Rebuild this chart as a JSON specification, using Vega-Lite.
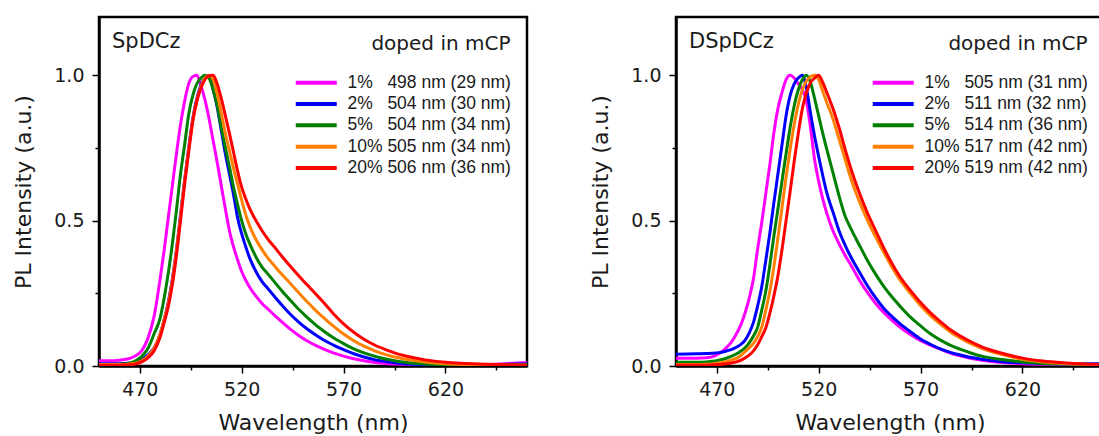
{
  "$schema": "https://vega.github.io/schema/vega-lite/v6.json",
  "background": "white",
  "padding": {"left": 11, "top": 15, "right": 0, "bottom": 0},
  "spacing": 59,
  "config": {
    "view": {"stroke": "black", "strokeWidth": 2.5},
    "axis": {
      "grid": false,
      "domainColor": "black",
      "domainWidth": 2.5,
      "tickColor": "black",
      "tickWidth": 1.5,
      "labelFont": "DejaVu Sans",
      "labelFontSize": 19,
      "labelColor": "#1a1a1a",
      "labelOverlap": false,
      "labelFlush": false,
      "labelBound": false,
      "titleFont": "DejaVu Sans",
      "titleFontSize": 22,
      "titleFontWeight": "normal",
      "titleColor": "#1a1a1a"
    },
    "legend": {
      "orient": "none",
      "padding": 0,
      "titleFont": "DejaVu Sans",
      "titleFontSize": 20,
      "titleFontWeight": "normal",
      "titleColor": "#1a1a1a",
      "titleAnchor": "end",
      "titlePadding": 20,
      "titleLimit": 0,
      "labelFont": "Liberation Sans",
      "labelFontSize": 17.5,
      "labelColor": "#1a1a1a",
      "labelLimit": 0,
      "labelOffset": 22.5,
      "symbolType": "M-4,0H4",
      "symbolSize": 105,
      "symbolStrokeWidth": 4,
      "rowPadding": 2.3
    },
    "title": {
      "font": "DejaVu Sans",
      "fontSize": 21,
      "fontWeight": "normal",
      "color": "#1a1a1a",
      "anchor": "start",
      "frame": "group",
      "orient": "top",
      "offset": 0,
      "baseline": "alphabetic"
    }
  },
  "datasets": {
    "sp": [
      {"w":450,"s01":0.018,"s02":0.008,"s05":0.005,"s10":0.005,"s20":0.003},
      {"w":455,"s01":0.018,"s02":0.008,"s05":0.005,"s10":0.005,"s20":0.003},
      {"w":460,"s01":0.020,"s02":0.008,"s05":0.006,"s10":0.005,"s20":0.003},
      {"w":465,"s01":0.026,"s02":0.010,"s05":0.010,"s10":0.007,"s20":0.004},
      {"w":468,"s01":0.035,"s02":0.014,"s05":0.018,"s10":0.010,"s20":0.007},
      {"w":471,"s01":0.053,"s02":0.022,"s05":0.033,"s10":0.018,"s20":0.014},
      {"w":474,"s01":0.095,"s02":0.038,"s05":0.060,"s10":0.033,"s20":0.028},
      {"w":477,"s01":0.170,"s02":0.062,"s05":0.110,"s10":0.060,"s20":0.052},
      {"w":480,"s01":0.300,"s02":0.110,"s05":0.165,"s10":0.110,"s20":0.100},
      {"w":482,"s01":0.400,"s02":0.160,"s05":0.235,"s10":0.160,"s20":0.150},
      {"w":484,"s01":0.510,"s02":0.220,"s05":0.320,"s10":0.215,"s20":0.205},
      {"w":486,"s01":0.620,"s02":0.300,"s05":0.420,"s10":0.295,"s20":0.280},
      {"w":488,"s01":0.730,"s02":0.400,"s05":0.535,"s10":0.395,"s20":0.380},
      {"w":490,"s01":0.830,"s02":0.520,"s05":0.660,"s10":0.515,"s20":0.500},
      {"w":492,"s01":0.910,"s02":0.640,"s05":0.760,"s10":0.635,"s20":0.625},
      {"w":494,"s01":0.970,"s02":0.750,"s05":0.865,"s10":0.745,"s20":0.735},
      {"w":496,"s01":0.995,"s02":0.850,"s05":0.930,"s10":0.845,"s20":0.840},
      {"w":498,"s01":1.000,"s02":0.920,"s05":0.970,"s10":0.915,"s20":0.910},
      {"w":500,"s01":0.965,"s02":0.965,"s05":0.990,"s10":0.960,"s20":0.955},
      {"w":502,"s01":0.915,"s02":0.990,"s05":1.000,"s10":0.990,"s20":0.985},
      {"w":504,"s01":0.850,"s02":1.000,"s05":0.990,"s10":1.000,"s20":0.998},
      {"w":506,"s01":0.775,"s02":0.950,"s05":0.950,"s10":0.985,"s20":1.000},
      {"w":508,"s01":0.700,"s02":0.890,"s05":0.895,"s10":0.935,"s20":0.970},
      {"w":510,"s01":0.620,"s02":0.810,"s05":0.820,"s10":0.870,"s20":0.920},
      {"w":512,"s01":0.540,"s02":0.730,"s05":0.750,"s10":0.800,"s20":0.860},
      {"w":514,"s01":0.465,"s02":0.660,"s05":0.685,"s10":0.740,"s20":0.800},
      {"w":516,"s01":0.410,"s02":0.590,"s05":0.615,"s10":0.680,"s20":0.735},
      {"w":518,"s01":0.365,"s02":0.510,"s05":0.555,"s10":0.625,"s20":0.670},
      {"w":520,"s01":0.325,"s02":0.455,"s05":0.500,"s10":0.570,"s20":0.615},
      {"w":522,"s01":0.295,"s02":0.410,"s05":0.455,"s10":0.520,"s20":0.575},
      {"w":524,"s01":0.270,"s02":0.370,"s05":0.420,"s10":0.480,"s20":0.540},
      {"w":527,"s01":0.240,"s02":0.325,"s05":0.375,"s10":0.435,"s20":0.500},
      {"w":530,"s01":0.215,"s02":0.290,"s05":0.340,"s10":0.400,"s20":0.465},
      {"w":533,"s01":0.195,"s02":0.265,"s05":0.315,"s10":0.370,"s20":0.435},
      {"w":536,"s01":0.175,"s02":0.240,"s05":0.290,"s10":0.345,"s20":0.410},
      {"w":540,"s01":0.150,"s02":0.207,"s05":0.256,"s10":0.313,"s20":0.375},
      {"w":544,"s01":0.126,"s02":0.177,"s05":0.225,"s10":0.283,"s20":0.342},
      {"w":548,"s01":0.105,"s02":0.151,"s05":0.195,"s10":0.252,"s20":0.310},
      {"w":552,"s01":0.087,"s02":0.128,"s05":0.168,"s10":0.222,"s20":0.280},
      {"w":556,"s01":0.072,"s02":0.108,"s05":0.143,"s10":0.193,"s20":0.250},
      {"w":560,"s01":0.059,"s02":0.090,"s05":0.121,"s10":0.167,"s20":0.220},
      {"w":565,"s01":0.045,"s02":0.072,"s05":0.097,"s10":0.137,"s20":0.180},
      {"w":570,"s01":0.034,"s02":0.056,"s05":0.077,"s10":0.110,"s20":0.145},
      {"w":575,"s01":0.025,"s02":0.042,"s05":0.059,"s10":0.087,"s20":0.116},
      {"w":580,"s01":0.018,"s02":0.031,"s05":0.045,"s10":0.068,"s20":0.092},
      {"w":585,"s01":0.013,"s02":0.022,"s05":0.034,"s10":0.053,"s20":0.073},
      {"w":590,"s01":0.009,"s02":0.016,"s05":0.025,"s10":0.041,"s20":0.058},
      {"w":595,"s01":0.007,"s02":0.011,"s05":0.018,"s10":0.031,"s20":0.045},
      {"w":600,"s01":0.006,"s02":0.008,"s05":0.013,"s10":0.024,"s20":0.035},
      {"w":610,"s01":0.005,"s02":0.005,"s05":0.007,"s10":0.014,"s20":0.021},
      {"w":620,"s01":0.004,"s02":0.004,"s05":0.004,"s10":0.008,"s20":0.013},
      {"w":630,"s01":0.004,"s02":0.003,"s05":0.003,"s10":0.005,"s20":0.009},
      {"w":640,"s01":0.005,"s02":0.004,"s05":0.003,"s10":0.004,"s20":0.006},
      {"w":650,"s01":0.008,"s02":0.006,"s05":0.004,"s10":0.003,"s20":0.004},
      {"w":660,"s01":0.012,"s02":0.007,"s05":0.005,"s10":0.003,"s20":0.003}
    ],
    "dsp": [
      {"w":450,"s01":0.027,"s02":0.040,"s05":0.013,"s10":0.005,"s20":0.003},
      {"w":455,"s01":0.027,"s02":0.041,"s05":0.013,"s10":0.005,"s20":0.003},
      {"w":460,"s01":0.027,"s02":0.042,"s05":0.013,"s10":0.005,"s20":0.003},
      {"w":465,"s01":0.028,"s02":0.043,"s05":0.014,"s10":0.006,"s20":0.003},
      {"w":468,"s01":0.032,"s02":0.044,"s05":0.016,"s10":0.007,"s20":0.004},
      {"w":471,"s01":0.042,"s02":0.046,"s05":0.020,"s10":0.010,"s20":0.005},
      {"w":474,"s01":0.058,"s02":0.050,"s05":0.025,"s10":0.014,"s20":0.007},
      {"w":477,"s01":0.080,"s02":0.056,"s05":0.033,"s10":0.020,"s20":0.010},
      {"w":480,"s01":0.115,"s02":0.066,"s05":0.043,"s10":0.028,"s20":0.015},
      {"w":482,"s01":0.145,"s02":0.075,"s05":0.052,"s10":0.037,"s20":0.020},
      {"w":484,"s01":0.185,"s02":0.090,"s05":0.063,"s10":0.050,"s20":0.028},
      {"w":486,"s01":0.235,"s02":0.115,"s05":0.080,"s10":0.063,"s20":0.038},
      {"w":488,"s01":0.300,"s02":0.150,"s05":0.103,"s10":0.078,"s20":0.052},
      {"w":490,"s01":0.400,"s02":0.205,"s05":0.132,"s10":0.100,"s20":0.072},
      {"w":492,"s01":0.490,"s02":0.270,"s05":0.190,"s10":0.132,"s20":0.100},
      {"w":494,"s01":0.590,"s02":0.360,"s05":0.255,"s10":0.190,"s20":0.130},
      {"w":496,"s01":0.690,"s02":0.455,"s05":0.345,"s10":0.255,"s20":0.180},
      {"w":498,"s01":0.800,"s02":0.560,"s05":0.445,"s10":0.340,"s20":0.240},
      {"w":500,"s01":0.885,"s02":0.660,"s05":0.540,"s10":0.440,"s20":0.310},
      {"w":502,"s01":0.940,"s02":0.760,"s05":0.635,"s10":0.545,"s20":0.400},
      {"w":504,"s01":0.985,"s02":0.860,"s05":0.730,"s10":0.650,"s20":0.500},
      {"w":506,"s01":1.000,"s02":0.930,"s05":0.820,"s10":0.745,"s20":0.600},
      {"w":508,"s01":0.990,"s02":0.970,"s05":0.895,"s10":0.830,"s20":0.705},
      {"w":510,"s01":0.970,"s02":0.990,"s05":0.950,"s10":0.900,"s20":0.800},
      {"w":512,"s01":0.950,"s02":1.000,"s05":0.985,"s10":0.950,"s20":0.885},
      {"w":514,"s01":0.910,"s02":0.955,"s05":1.000,"s10":0.980,"s20":0.940},
      {"w":516,"s01":0.820,"s02":0.870,"s05":0.975,"s10":0.995,"s20":0.975},
      {"w":518,"s01":0.710,"s02":0.790,"s05":0.920,"s10":1.000,"s20":0.990},
      {"w":520,"s01":0.635,"s02":0.720,"s05":0.860,"s10":0.985,"s20":1.000},
      {"w":522,"s01":0.575,"s02":0.655,"s05":0.800,"s10":0.945,"s20":0.975},
      {"w":524,"s01":0.525,"s02":0.595,"s05":0.745,"s10":0.905,"s20":0.940},
      {"w":527,"s01":0.465,"s02":0.530,"s05":0.665,"s10":0.850,"s20":0.885},
      {"w":530,"s01":0.420,"s02":0.465,"s05":0.585,"s10":0.780,"s20":0.820},
      {"w":533,"s01":0.380,"s02":0.415,"s05":0.515,"s10":0.710,"s20":0.745},
      {"w":536,"s01":0.345,"s02":0.372,"s05":0.470,"s10":0.640,"s20":0.675},
      {"w":540,"s01":0.295,"s02":0.323,"s05":0.415,"s10":0.565,"s20":0.595},
      {"w":544,"s01":0.252,"s02":0.275,"s05":0.362,"s10":0.500,"s20":0.525},
      {"w":548,"s01":0.215,"s02":0.234,"s05":0.315,"s10":0.443,"s20":0.465},
      {"w":552,"s01":0.183,"s02":0.198,"s05":0.273,"s10":0.390,"s20":0.405},
      {"w":556,"s01":0.157,"s02":0.170,"s05":0.237,"s10":0.340,"s20":0.352},
      {"w":560,"s01":0.133,"s02":0.145,"s05":0.205,"s10":0.295,"s20":0.306},
      {"w":565,"s01":0.108,"s02":0.118,"s05":0.168,"s10":0.250,"s20":0.260},
      {"w":570,"s01":0.087,"s02":0.093,"s05":0.138,"s10":0.208,"s20":0.218},
      {"w":575,"s01":0.071,"s02":0.074,"s05":0.110,"s10":0.172,"s20":0.182},
      {"w":580,"s01":0.057,"s02":0.058,"s05":0.088,"s10":0.142,"s20":0.151},
      {"w":585,"s01":0.044,"s02":0.046,"s05":0.070,"s10":0.115,"s20":0.123},
      {"w":590,"s01":0.034,"s02":0.037,"s05":0.056,"s10":0.094,"s20":0.101},
      {"w":595,"s01":0.026,"s02":0.029,"s05":0.044,"s10":0.076,"s20":0.082},
      {"w":600,"s01":0.020,"s02":0.023,"s05":0.034,"s10":0.061,"s20":0.066},
      {"w":610,"s01":0.012,"s02":0.015,"s05":0.022,"s10":0.039,"s20":0.044},
      {"w":620,"s01":0.008,"s02":0.011,"s05":0.014,"s10":0.023,"s20":0.027},
      {"w":630,"s01":0.006,"s02":0.009,"s05":0.009,"s10":0.014,"s20":0.017},
      {"w":640,"s01":0.005,"s02":0.008,"s05":0.007,"s10":0.009,"s20":0.011},
      {"w":650,"s01":0.005,"s02":0.008,"s05":0.006,"s10":0.006,"s20":0.007},
      {"w":660,"s01":0.005,"s02":0.008,"s05":0.005,"s10":0.005,"s20":0.005}
    ]
  },
  "hconcat": [
    {
      "width": 428,
      "height": 349,
      "data": {"name": "sp"},
      "title": {"text": "SpDCz", "dx": 13, "dy": 39},
      "transform": [{"fold": ["s01", "s02", "s05", "s10", "s20"], "as": ["key", "val"]}],
      "mark": {"type": "line", "strokeWidth": 3, "interpolate": "monotone", "clip": true},
      "encoding": {
        "x": {
          "field": "w", "type": "quantitative",
          "scale": {"domain": [450, 660], "nice": false, "zero": false},
          "axis": {
            "title": "Wavelength (nm)",
            "titlePadding": 13,
            "labelPadding": 7,
            "values": [470, 495, 520, 545, 570, 595, 620, 645],
            "labelExpr": "datum.value % 50 == 20 ? datum.label : ''",
            "tickSize": {"condition": {"test": "datum.value % 50 == 20", "value": 7}, "value": 4}
          }
        },
        "y": {
          "field": "val", "type": "quantitative",
          "scale": {"domain": [0, 1.2], "nice": false},
          "axis": {
            "title": "PL Intensity (a.u.)",
            "titlePadding": 18,
            "labelPadding": 8,
            "values": [0, 0.25, 0.5, 0.75, 1],
            "labelExpr": "(datum.value == 0.25 || datum.value == 0.75) ? '' : format(datum.value, '.1f')",
            "tickSize": {"condition": {"test": "datum.value == 0.25 || datum.value == 0.75", "value": 4}, "value": 7}
          }
        },
        "color": {
          "field": "key", "type": "nominal",
          "scale": {"domain": ["s01", "s02", "s05", "s10", "s20"], "range": ["#ff00ff", "#0000ff", "#008000", "#ff8000", "#ff0000"]},
          "legend": {
            "title": "doped in mCP",
            "legendX": 208.5,
            "legendY": 17,
            "labelExpr": "datum.value == 's01' ? '1%\u00a0\u00a0\u00a0498 nm (29 nm)' : datum.value == 's02' ? '2%\u00a0\u00a0\u00a0504 nm (30 nm)' : datum.value == 's05' ? '5%\u00a0\u00a0\u00a0504 nm (34 nm)' : datum.value == 's10' ? '10%\u00a0505 nm (34 nm)' : '20%\u00a0506 nm (36 nm)'"
          }
        }
      }
    },
    {
      "width": 428,
      "height": 349,
      "data": {"name": "dsp"},
      "title": {"text": "DSpDCz", "dx": 13, "dy": 39},
      "transform": [{"fold": ["s01", "s02", "s05", "s10", "s20"], "as": ["key", "val"]}],
      "mark": {"type": "line", "strokeWidth": 3, "interpolate": "monotone", "clip": true},
      "encoding": {
        "x": {
          "field": "w", "type": "quantitative",
          "scale": {"domain": [450, 660], "nice": false, "zero": false},
          "axis": {
            "title": "Wavelength (nm)",
            "titlePadding": 13,
            "labelPadding": 7,
            "values": [470, 495, 520, 545, 570, 595, 620, 645],
            "labelExpr": "datum.value % 50 == 20 ? datum.label : ''",
            "tickSize": {"condition": {"test": "datum.value % 50 == 20", "value": 7}, "value": 4}
          }
        },
        "y": {
          "field": "val", "type": "quantitative",
          "scale": {"domain": [0, 1.2], "nice": false},
          "axis": {
            "title": "PL Intensity (a.u.)",
            "titlePadding": 18,
            "labelPadding": 8,
            "values": [0, 0.25, 0.5, 0.75, 1],
            "labelExpr": "(datum.value == 0.25 || datum.value == 0.75) ? '' : format(datum.value, '.1f')",
            "tickSize": {"condition": {"test": "datum.value == 0.25 || datum.value == 0.75", "value": 4}, "value": 7}
          }
        },
        "color": {
          "field": "key", "type": "nominal",
          "scale": {"domain": ["s01", "s02", "s05", "s10", "s20"], "range": ["#ff00ff", "#0000ff", "#008000", "#ff8000", "#ff0000"]},
          "legend": {
            "title": "doped in mCP",
            "legendX": 208.5,
            "legendY": 17,
            "labelExpr": "datum.value == 's01' ? '1%\u00a0\u00a0\u00a0505 nm (31 nm)' : datum.value == 's02' ? '2%\u00a0\u00a0\u00a0511 nm (32 nm)' : datum.value == 's05' ? '5%\u00a0\u00a0\u00a0514 nm (36 nm)' : datum.value == 's10' ? '10%\u00a0517 nm (42 nm)' : '20%\u00a0519 nm (42 nm)'"
          }
        }
      }
    }
  ],
  "resolve": {"scale": {"color": "independent"}, "legend": {"color": "independent"}}
}
